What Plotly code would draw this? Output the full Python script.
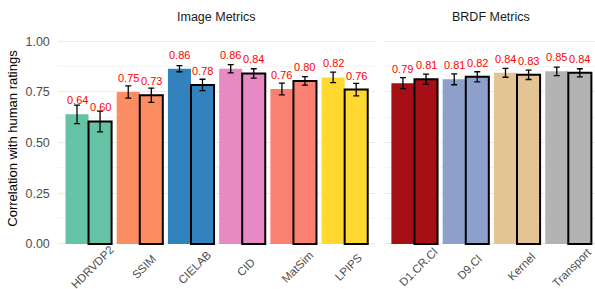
import plotly.graph_objects as go

# ---- data ----
image_metrics = ["HDRVDP2", "SSIM", "CIELAB", "CID", "MatSim", "LPIPS"]
image_a = [0.639, 0.749, 0.864, 0.864, 0.764, 0.821]
image_a_err = [0.046, 0.030, 0.015, 0.020, 0.029, 0.026]
image_b = [0.604, 0.733, 0.784, 0.841, 0.804, 0.761]
image_b_err = [0.051, 0.035, 0.028, 0.023, 0.021, 0.031]
image_colors = ["#66C2A5", "#FC8D62", "#3182BD", "#E78AC3", "#FA8072", "#FFD92F"]

brdf_metrics = ["D1.CR.Cl", "D9.Cl", "Kernel", "Transport"]
brdf_a = [0.793, 0.812, 0.844, 0.851]
brdf_a_err = [0.027, 0.027, 0.022, 0.021]
brdf_b = [0.812, 0.824, 0.834, 0.844]
brdf_b_err = [0.025, 0.025, 0.023, 0.020]
brdf_colors = ["#A50F15", "#8DA0CB", "#E5C494", "#B3B3B3"]

panel_titles = ["Image Metrics", "BRDF Metrics"]
y_title = "Correlation with human ratings"
y_ticks = [0, 0.25, 0.5, 0.75, 1.0]

# ---- layout geometry ----
W, H = 595, 289
FONT = "Liberation Sans, Arial, sans-serif"
TOP, BOTTOM = 30.7, 246.0          # plot area in px
Y_RANGE = [-0.01, 1.05]
UNIT = 51.28                        # px per category
p1 = (57.8, 375.4)
p2 = (383.7, 595.0)


def paper_y(px):
    return (BOTTOM - px) / (BOTTOM - TOP)


fig = go.Figure()

panels = [
    ("x", "y", image_metrics, image_a, image_a_err, image_b, image_b_err, image_colors),
    ("x2", "y2", brdf_metrics, brdf_a, brdf_a_err, brdf_b, brdf_b_err, brdf_colors),
]

ann = []
for xa, ya, cats, va, ea, vb, eb, cols in panels:
    fig.add_trace(go.Bar(
        x=cats, y=va, xaxis=xa, yaxis=ya, offsetgroup="a",
        marker=dict(color=cols, line=dict(width=0)),
        error_y=dict(type="data", array=ea, color="black", thickness=1.3, width=3),
        showlegend=False, hoverinfo="skip"))
    fig.add_trace(go.Bar(
        x=cats, y=vb, xaxis=xa, yaxis=ya, offsetgroup="b",
        marker=dict(color=cols, line=dict(width=2, color="black")),
        error_y=dict(type="data", array=eb, color="black", thickness=1.3, width=3),
        showlegend=False, hoverinfo="skip"))
    for vals, sh in ((va, -0.225), (vb, 0.225)):
        for c, v in zip(cats, vals):
            ann.append(dict(x=c, y=v, xref=xa, yref=ya, text=f"{v:.2f}",
                            showarrow=False, xanchor="center", yanchor="bottom",
                            xshift=sh * UNIT, yshift=6,
                            font=dict(family=FONT, size=11, color="#FF0000")))
    for c in cats:
        ann.append(dict(x=c, y=paper_y(267), xref=xa, yref="paper", text=c,
                        textangle=-45, showarrow=False, xanchor="center",
                        yanchor="middle", xshift=4,
                        font=dict(family=FONT, size=11.5, color="#4D4D4D")))

ann.append(dict(x=2.5, y=paper_y(17), xref="x", yref="paper", text=panel_titles[0],
                showarrow=False, xanchor="center", yanchor="middle",
                font=dict(family=FONT, size=12.5, color="#1A1A1A")))
ann.append(dict(x=1.5, y=paper_y(17), xref="x2", yref="paper", text=panel_titles[1],
                showarrow=False, xanchor="center", yanchor="middle",
                font=dict(family=FONT, size=12.5, color="#1A1A1A")))

span2 = (p2[1] - p2[0]) / UNIT

xcommon = dict(type="category", showgrid=False, zeroline=False, showline=False,
               ticks="", showticklabels=False, fixedrange=True)
ycommon = dict(range=Y_RANGE, tickvals=y_ticks, showgrid=True, gridcolor="#EBEBEB",
               gridwidth=1, zeroline=False, showline=False, ticks="",
               minor=dict(dtick=0.125, tick0=0, showgrid=True, gridcolor="#F4F4F4",
                          gridwidth=1),
               fixedrange=True)

fig.update_layout(
    width=W, height=H,
    margin=dict(l=0, r=0, t=TOP, b=H - BOTTOM, autoexpand=False),
    paper_bgcolor="white", plot_bgcolor="white",
    barmode="group", bargap=0.1, bargroupgap=0,
    font=dict(family=FONT, color="#4D4D4D"),
    xaxis=dict(**xcommon, domain=[p1[0] / W, p1[1] / W], range=[-0.6, 5.6], anchor="y"),
    xaxis2=dict(**xcommon, domain=[p2[0] / W, p2[1] / W], range=[-0.6, -0.6 + span2], anchor="y2"),
    yaxis=dict(**ycommon, anchor="x", tickformat=".2f",
               tickfont=dict(family=FONT, size=12.5, color="#4D4D4D"),
               ticklabelstandoff=7,
               title=dict(text=y_title, standoff=4,
                          font=dict(family=FONT, size=13, color="black"))),
    yaxis2=dict(**ycommon, anchor="x2", showticklabels=False),
    annotations=ann,
    showlegend=False,
)

fig.write_html(
    "out.html",
    config={"displayModeBar": False, "staticPlot": True},
    post_script="document.body.style.margin='0';document.body.style.overflow='hidden';",
)
